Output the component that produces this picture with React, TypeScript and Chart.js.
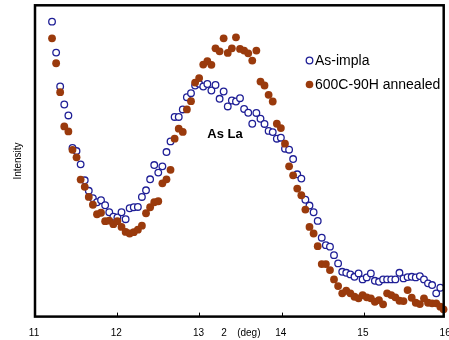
import React, { useEffect, useRef } from "react";
import { Chart, registerables } from "chart.js";

Chart.register(...registerables);

// 2θ (deg) sampling positions shared by both scans
const xDeg = [
  11.207, 11.257, 11.306, 11.356, 11.406, 11.456, 11.505, 11.555, 11.605, 11.654,
  11.704, 11.754, 11.803, 11.853, 11.903, 11.953, 12.002, 12.052, 12.102, 12.151,
  12.201, 12.251, 12.300, 12.350, 12.400, 12.450, 12.499, 12.549, 12.599, 12.648,
  12.698, 12.748, 12.797, 12.847, 12.897, 12.947, 12.996, 13.046, 13.096, 13.145,
  13.195, 13.245, 13.294, 13.344, 13.394, 13.444, 13.493, 13.543, 13.593, 13.642,
  13.692, 13.742, 13.791, 13.841, 13.891, 13.941, 13.990, 14.040, 14.090, 14.139,
  14.189, 14.239, 14.288, 14.338, 14.388, 14.438, 14.487, 14.537, 14.587, 14.636,
  14.686, 14.736, 14.785, 14.835, 14.885, 14.935, 14.984, 15.034, 15.084, 15.133,
  15.183, 15.233, 15.282, 15.332, 15.382, 15.432, 15.481, 15.531, 15.581, 15.630,
  15.680, 15.730, 15.779, 15.829, 15.879, 15.929, 15.968,
];

// As-implanted intensity (arb. units)
const asImpla = [
  295.6, 264.6, 230.6, 212.6, 201.6, 169.1, 165.9, 152.6, 136.6, 126.1,
  118.6, 114.6, 116.6, 111.6, 104.6, 100.1, 99.3, 104.6, 97.6, 108.6,
  109.6, 109.9, 119.9, 126.6, 137.6, 151.9, 144.3, 150.6, 164.9, 175.6,
  200.1, 200.1, 207.6, 219.9, 223.9, 231.6, 233.3, 230.6, 233.1, 226.6,
  232.1, 218.3, 225.6, 210.6, 216.6, 215.6, 218.9, 208.1, 204.3, 193.3,
  204.1, 198.3, 193.1, 186.1, 184.9, 178.3, 179.3, 168.3, 167.3, 157.9,
  142.6, 138.3, 117.1, 111.3, 104.6, 95.9, 79.1, 71.6, 70.1, 61.6,
  53.3, 44.9, 43.9, 42.3, 39.9, 43.3, 37.3, 39.3, 43.3, 35.9,
  34.9, 37.3, 37.3, 37.3, 37.3, 43.9, 38.3, 39.6, 39.9, 39.3,
  40.6, 37.3, 33.3, 31.6, 23.3, 28.9,
];

// 600C-90H annealed intensity (arb. units)
const annealed = [
  278.9, 253.9, 224.9, 190.6, 185.6, 167.1, 159.6, 137.3, 130.1, 119.9,
  112.1, 102.6, 104.1, 95.6, 96.1, 92.6, 95.6, 89.9, 84.9, 83.3,
  84.6, 87.1, 91.1, 103.6, 109.6, 114.6, 115.6, 133.6, 137.6, 147.1,
  178.3, 188.3, 185.1, 207.6, 215.9, 234.6, 239.1, 252.6, 255.9, 252.3,
  268.9, 265.9, 278.9, 264.3, 268.9, 279.9, 268.3, 266.6, 263.9, 256.6,
  266.6, 235.6, 231.6, 222.3, 215.6, 193.3, 188.9, 173.3, 150.6, 141.6,
  128.3, 121.6, 107.3, 89.9, 83.3, 70.6, 52.6, 52.6, 46.6, 37.3,
  30.6, 23.3, 25.9, 23.3, 19.9, 18.3, 21.6, 19.3, 18.3, 14.9,
  16.6, 12.3, 23.3, 21.6, 19.3, 15.9, 15.6, 26.6, 18.9, 13.9,
  12.6, 18.3, 13.9, 13.3, 13.3, 9.9, 7.3,
];

const xTickValues = [11, 12, 13, 14, 15, 16];
const seriesNames = ["As-impla", "600C-90H annealed"];
const peakLabel = "As La";
const yTitle = "Intensity";

const FONT = '"Liberation Sans", Arial, sans-serif';
const BLUE = "#1f1f96";
const BROWN = "#9a3a0c";

const decorPlugin = {
  id: "decor",
  afterDraw(chart: any) {
    const { ctx, chartArea: a } = chart;
    const x = chart.scales.x;
    ctx.save();
    // frame
    ctx.strokeStyle = "#000";
    ctx.lineWidth = 2.5;
    ctx.strokeRect(a.left, a.top, a.right - a.left, a.bottom - a.top);
    // inward tick marks
    ctx.lineWidth = 1;
    xTickValues.forEach((t) => {
      if (t <= 11 || t >= 16) return;
      const px = Math.round(x.getPixelForValue(t)) + 0.5;
      ctx.beginPath();
      ctx.moveTo(px, a.bottom);
      ctx.lineTo(px, a.bottom - 4);
      ctx.stroke();
    });
    // tick labels
    ctx.fillStyle = "#000";
    ctx.font = `10px ${FONT}`;
    ctx.textAlign = "center";
    ctx.textBaseline = "middle";
    const ly = a.bottom + 17;
    xTickValues.forEach((t) => {
      ctx.fillText(String(t), x.getPixelForValue(t) - 1, ly);
    });
    // axis title (theta glyph missing in the original)
    ctx.fillText("2", x.getPixelForValue(13.3), ly);
    ctx.fillText("(deg)", x.getPixelForValue(13.6), ly);
    // y title
    ctx.save();
    ctx.translate(18, 161);
    ctx.rotate(-Math.PI / 2);
    ctx.fillText(yTitle, 0, 0);
    ctx.restore();
    // peak annotation
    ctx.font = `bold 13px ${FONT}`;
    ctx.fillText(peakLabel, x.getPixelForValue(13.31), 134);
    // legend
    ctx.font = `14px ${FONT}`;
    ctx.textAlign = "left";
    ctx.beginPath();
    ctx.arc(309.5, 60.5, 3.3, 0, Math.PI * 2);
    ctx.fillStyle = "#fff";
    ctx.fill();
    ctx.strokeStyle = BLUE;
    ctx.lineWidth = 1.3;
    ctx.stroke();
    ctx.beginPath();
    ctx.arc(309.5, 84.5, 3.8, 0, Math.PI * 2);
    ctx.fillStyle = BROWN;
    ctx.fill();
    ctx.fillStyle = "#000";
    ctx.fillText(seriesNames[0], 315, 61);
    ctx.fillText(seriesNames[1], 315, 85);
    ctx.restore();
  },
};

export default function App() {
  const ref = useRef<HTMLCanvasElement | null>(null);
  useEffect(() => {
    if (!ref.current) return;
    const chart = new Chart(ref.current, {
      type: "scatter",
      data: {
        datasets: [
          {
            label: seriesNames[0],
            data: asImpla.map((v, i) => ({ x: xDeg[i], y: v })),
            pointStyle: "circle",
            pointRadius: 3.3,
            pointBorderWidth: 1.3,
            borderColor: BLUE,
            backgroundColor: "#ffffff",
            order: 1,
            clip: false,
          },
          {
            label: seriesNames[1],
            data: annealed.map((v, i) => ({ x: xDeg[i], y: v })),
            pointStyle: "circle",
            pointRadius: 3.9,
            pointBorderWidth: 0,
            borderColor: BROWN,
            backgroundColor: BROWN,
            order: 0,
            clip: false,
          },
        ],
      },
      options: {
        animation: false,
        responsive: false,
        devicePixelRatio: 1,
        layout: { padding: { left: 35, right: 1.5, top: 4.3, bottom: 23.4 } },
        plugins: { legend: { display: false }, tooltip: { enabled: false } },
        scales: {
          x: { type: "linear", min: 11, max: 15.97, display: false },
          y: { type: "linear", min: 0, max: 312, display: false },
        },
      },
      plugins: [decorPlugin],
    } as any);
    return () => chart.destroy();
  }, []);
  return (
    <div style={{ position: "absolute", left: 0, top: 0, width: 449, height: 340, background: "#fff" }}>
      <canvas ref={ref} width={449} height={340} style={{ display: "block" }} />
    </div>
  );
}
